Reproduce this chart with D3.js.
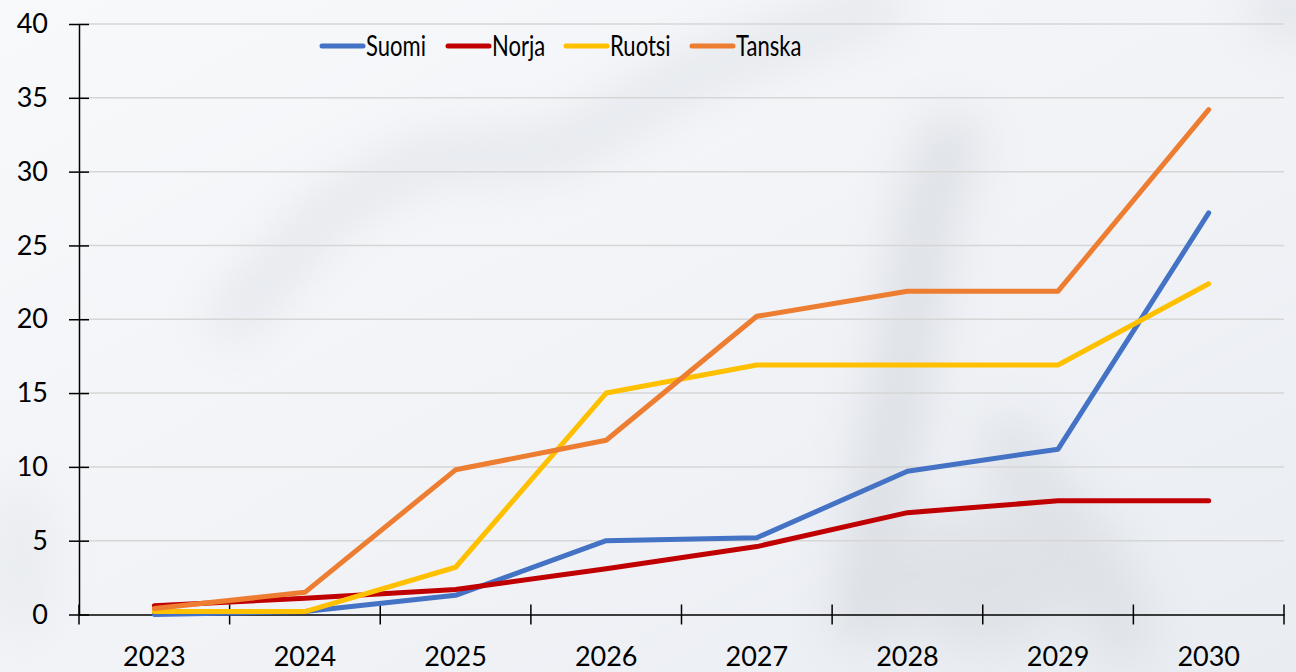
<!DOCTYPE html>
<html><head><meta charset="utf-8">
<script src="https://cdn.jsdelivr.net/npm/d3@7"></script>
<style>html,body{margin:0;padding:0;background:#f3f5f8;}svg{display:block;}</style>
</head><body><svg id="c" width="1296" height="672"></svg>
<script>
const years = ["2023","2024","2025","2026","2027","2028","2029","2030"];
const suomi  = [0.0, 0.2, 1.3, 5.0, 5.2, 9.7, 11.2, 27.2];
const norja  = [0.6, 1.1, 1.7, 3.1, 4.6, 6.9, 7.7, 7.7];
const ruotsi = [0.2, 0.2, 3.2, 15.0, 16.9, 16.9, 16.9, 22.4];
const tanska = [0.4, 1.5, 9.8, 11.8, 20.2, 21.9, 21.9, 34.2];
const seriesNames = ["Suomi","Norja","Ruotsi","Tanska"];
const seriesColors = ["#4472C4","#C00000","#FFC000","#ED7D31"];
const yTicks = [0,5,10,15,20,25,30,35,40];

const series = [suomi, norja, ruotsi, tanska].map((v,i)=>({name:seriesNames[i], color:seriesColors[i], values:v}));
const font = "Lato,'Open Sans',sans-serif";

const svg = d3.select("#c");
const W = 1296, H = 672;
const mLeft = 79, mRight = 1284, mTop = 24, mBottom = 614.5;

// background
const defs = svg.append("defs");
const g1 = defs.append("linearGradient").attr("id","bg").attr("x1","0").attr("y1","0").attr("x2","1").attr("y2","1");
g1.append("stop").attr("offset","0").attr("stop-color","#f8f9fb");
g1.append("stop").attr("offset","0.6").attr("stop-color","#f0f2f6");
g1.append("stop").attr("offset","1").attr("stop-color","#e9edf2");
defs.append("filter").attr("id","blur").attr("x","-50%").attr("y","-50%").attr("width","200%").attr("height","200%")
  .append("feGaussianBlur").attr("stdDeviation","24");
svg.append("rect").attr("width",W).attr("height",H).attr("fill","url(#bg)");
const blobs = svg.append("g").attr("filter","url(#blur)").attr("opacity",0.45);
blobs.append("path").attr("d","M220,330 L330,210 L420,160 L560,150 L700,70 L900,0").attr("stroke","#cdd2d9").attr("stroke-width",40).attr("fill","none");
blobs.append("path").attr("d","M860,640 L880,500 L900,380 L930,200 L960,120").attr("stroke","#c6cbd2").attr("stroke-width",60).attr("fill","none");
blobs.append("path").attr("d","M1130,660 L1100,560 L1020,470 L1000,420").attr("stroke","#cdd2d8").attr("stroke-width",60).attr("fill","none");
blobs.append("ellipse").attr("cx",980).attr("cy",580).attr("rx",100).attr("ry",70).attr("fill","#cfd3d8");
blobs.append("ellipse").attr("cx",1290).attr("cy",10).attr("rx",40).attr("ry",25).attr("fill","#c9ced5");
blobs.append("ellipse").attr("cx",20).attr("cy",560).attr("rx",30).attr("ry",80).attr("fill","#dde1e6");

const x = d3.scaleBand().domain(years).range([mLeft, mRight]).padding(0);
const y = d3.scaleLinear().domain([0,40]).range([mBottom, mTop]);

// gridlines
svg.append("g").selectAll("line").data(yTicks.filter(d=>d>0)).join("line")
  .attr("x1",mLeft).attr("x2",mRight).attr("y1",d=>y(d)).attr("y2",d=>y(d))
  .attr("stroke","#d6d6d6").attr("stroke-width",1.5);

// y axis
const yAxis = svg.append("g").attr("transform",`translate(${mLeft},0)`)
  .call(d3.axisLeft(y).tickValues(yTicks).tickSizeInner(10).tickSizeOuter(0).tickPadding(21));
yAxis.select(".domain").attr("stroke","#000").attr("stroke-width",1.5);
yAxis.selectAll(".tick line").attr("stroke","#000").attr("stroke-width",1.5).attr("x2",-10).clone().attr("x2",10);
yAxis.selectAll(".tick text").attr("font-family",font).attr("font-size",27).attr("fill","#000");

// x axis
const xAxis = svg.append("g").attr("transform",`translate(0,${mBottom})`)
  .call(d3.axisBottom(x).tickSize(0).tickPadding(32));
xAxis.select(".domain").attr("stroke","#000").attr("stroke-width",1.5);
xAxis.selectAll(".tick text").attr("font-family",font).attr("font-size",27).attr("fill","#000");
const bounds = years.map(d=>x(d)).concat([x(years[years.length-1])+x.bandwidth()]);
svg.append("g").selectAll("line").data(bounds).join("line")
  .attr("x1",d=>d).attr("x2",d=>d).attr("y1",mBottom-10).attr("y2",mBottom+10)
  .attr("stroke","#000").attr("stroke-width",1.5);

// lines
const line = d3.line().x((d,i)=>x(years[i])+x.bandwidth()/2).y(d=>y(d));
svg.append("g").selectAll("path").data(series).join("path")
  .attr("d",d=>line(d.values)).attr("fill","none").attr("stroke",d=>d.color)
  .attr("stroke-width",5).attr("stroke-linecap","round").attr("stroke-linejoin","round");

// legend
const legX = [322, 448, 566, 692];
const leg = svg.append("g").selectAll("g").data(series).join("g")
  .attr("transform",(d,i)=>`translate(${legX[i]},46)`);
leg.append("line").attr("x1",0).attr("x2",41).attr("stroke",d=>d.color).attr("stroke-width",5).attr("stroke-linecap","round");
leg.append("text").attr("transform","translate(44,0) scale(0.76,1)").attr("dy","0.36em").text(d=>d.name)
  .attr("font-family",font).attr("font-size",29).attr("fill","#000");
</script></body></html>
